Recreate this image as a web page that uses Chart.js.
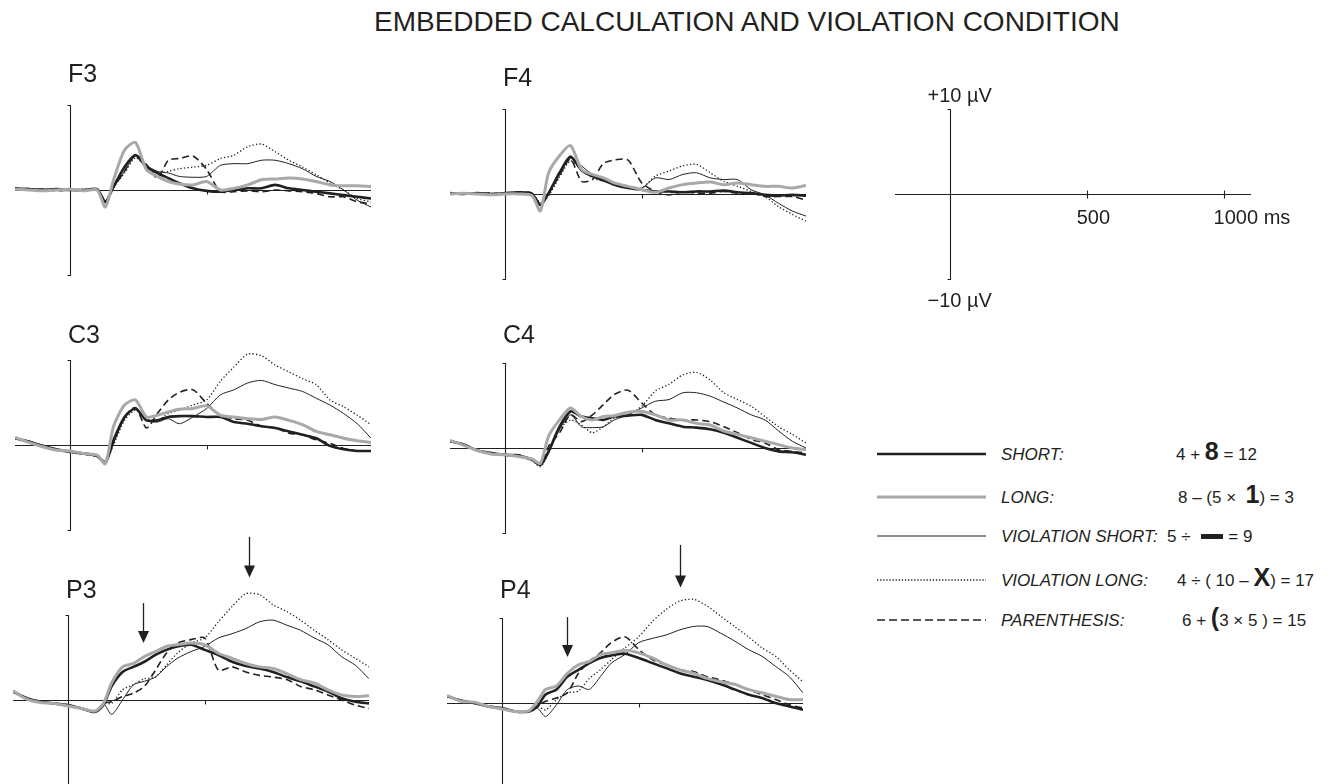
<!DOCTYPE html>
<html>
<head>
<meta charset="utf-8">
<title>Embedded calculation and violation condition</title>
<script src="https://cdn.jsdelivr.net/npm/chart.js@4.4.1/dist/chart.umd.min.js"></script>
<style>
  html, body { margin: 0; padding: 0; background: #fff; }
  body { position: relative; width: 1336px; height: 784px; overflow: hidden;
         font-family: "Liberation Sans", Arial, Helvetica, sans-serif; color: #231f20; }
  canvas { position: absolute; }
  .txt { position: absolute; white-space: nowrap; line-height: 1; }
  .lg { font-style: italic; }
  .eq b { font-size: 25px; line-height: 0; }
  .bar { display: inline-block; width: 22px; height: 5px; background: #231f20; vertical-align: 3px; margin: 0 1px 0 10px; }
  #swatches { position: absolute; left: 0; top: 0; }
</style>
</head>
<body>
<svg id="swatches" width="1336" height="784"></svg>
<script>
// Time points (ms) shared by every trace
const times = [-200, -150, -100, -50, 0, 50, 100, 130, 160, 200, 240, 280, 320, 360, 400, 450, 500, 550, 600, 650, 700, 750, 800, 850, 900, 950, 1000, 1050, 1100]

// F3 (µV)
const f3Short     = [0.2, 0.1, 0.0, 0.1, 0.0, 0.0, 0.1, -1.4, 0.4, 2.7, 4.1, 2.7, 2.0, 1.4, 0.8, 0.2, -0.1, -0.2, 0.0, 0.2, 0.2, 0.6, 0.2, 0.0, -0.2, -0.4, -0.6, -0.8, -1.0]
const f3Long      = [0.1, 0.0, -0.1, 0.0, 0.1, -0.1, 0.0, -2.0, 1.2, 4.7, 5.6, 2.4, 1.6, 1.0, 0.7, 0.6, 1.0, 0.0, 0.2, 0.6, 1.2, 1.3, 1.4, 1.3, 1.0, 0.6, 0.5, 0.5, 0.4]
const f3ViolShort = [0.1, 0.2, 0.0, 0.0, 0.1, 0.0, 0.1, -1.5, 0.3, 2.2, 4.0, 2.9, 2.2, 2.0, 1.6, 1.5, 1.6, 2.9, 3.1, 3.1, 3.5, 3.5, 3.1, 2.5, 1.6, 1.0, 0.0, -1.2, -2.0]
const f3ViolLong  = [0.0, 0.1, 0.1, 0.0, 0.0, 0.1, 0.0, -1.5, 0.3, 2.0, 3.8, 2.7, 2.0, 2.2, 2.5, 2.7, 2.9, 3.7, 4.1, 5.1, 5.4, 4.5, 3.5, 2.7, 1.8, 0.8, 0.0, -1.0, -1.4]
const f3Paren     = [0.1, 0.0, 0.1, -0.1, 0.0, 0.0, 0.1, -1.3, 0.3, 2.2, 4.1, 3.0, 1.4, 3.5, 3.7, 4.0, 2.4, -0.2, -0.2, -0.1, -0.2, 0.0, -0.1, -0.2, -0.4, -0.8, -0.8, -1.4, -1.6]

// F4
const f4Short     = [0.1, 0.0, 0.1, 0.0, 0.1, 0.2, 0.0, -1.3, 0.1, 2.5, 4.4, 2.8, 2.1, 1.6, 1.1, 0.7, 0.5, 0.3, 0.3, 0.2, 0.3, 0.3, 0.4, 0.2, 0.1, -0.1, -0.2, -0.1, -0.2]
const f4Long      = [0.0, 0.1, 0.0, -0.1, 0.0, 0.0, -0.2, -2.0, 2.5, 4.5, 5.7, 2.9, 2.3, 1.9, 1.3, 0.9, 0.5, 0.2, 0.7, 1.1, 1.3, 1.4, 1.1, 1.3, 1.1, 0.9, 0.9, 0.7, 1.0]
const f4ViolShort = [0.1, 0.0, 0.1, 0.0, 0.1, 0.2, 0.1, -1.3, 0.0, 2.3, 4.2, 3.3, 2.3, 1.7, 1.1, 0.7, 0.7, 1.9, 1.7, 2.3, 2.5, 1.9, 1.7, 1.7, 0.5, -0.1, -1.1, -2.0, -2.6]
const f4ViolLong  = [0.0, 0.1, 0.0, 0.1, 0.0, 0.1, 0.0, -1.0, -0.2, 2.0, 3.9, 2.9, 1.9, 1.5, 1.1, 0.7, 0.7, 2.1, 2.7, 3.3, 3.5, 2.5, 1.5, 0.9, 0.3, -0.3, -1.5, -2.4, -3.2]
const f4Paren     = [0.1, 0.0, 0.0, 0.1, 0.0, 0.2, 0.1, -1.2, 0.0, 2.2, 4.1, 1.5, 1.7, 3.6, 4.0, 4.0, 1.3, 0.3, -0.1, 0.3, 0.1, 0.1, 0.3, 0.1, 0.1, -0.3, -0.3, -0.3, -0.7]

// C3
const c3Short     = [0.8, 0.4, -0.1, -0.5, -0.8, -1.0, -1.3, -2.1, 0.6, 3.3, 4.3, 2.9, 2.9, 3.3, 3.4, 3.4, 3.3, 3.3, 2.7, 2.5, 2.2, 2.0, 1.6, 1.2, 0.8, -0.1, -0.5, -0.7, -0.7]
const c3Long      = [0.9, 0.3, -0.2, -0.6, -0.7, -1.0, -1.2, -2.2, 2.2, 4.7, 5.3, 3.3, 3.5, 3.9, 4.2, 4.3, 4.6, 3.5, 3.3, 3.1, 3.0, 3.3, 2.9, 2.4, 1.6, 1.2, 0.8, 0.5, 0.3]
const c3ViolShort = [0.7, 0.4, 0.0, -0.5, -0.8, -1.1, -1.3, -2.1, 0.2, 3.1, 4.4, 2.9, 2.7, 3.1, 2.5, 3.3, 4.3, 5.9, 6.5, 7.3, 7.6, 7.1, 6.7, 6.3, 5.5, 4.7, 3.7, 2.5, 0.8]
const c3ViolLong  = [0.8, 0.5, -0.1, -0.6, -0.9, -1.1, -1.4, -2.0, 0.0, 2.9, 4.1, 3.1, 2.9, 3.7, 4.1, 4.7, 5.3, 7.5, 9.2, 10.7, 10.5, 9.4, 8.6, 7.8, 7.1, 5.3, 4.5, 3.5, 2.4]
const c3Paren     = [0.8, 0.4, -0.1, -0.5, -0.8, -1.0, -1.3, -1.9, 0.3, 3.3, 4.4, 2.0, 3.7, 5.3, 6.2, 6.5, 4.9, 3.5, 3.1, 2.9, 2.2, 2.0, 1.4, 1.2, 0.6, 0.2, -0.4, -0.7, -0.7]

// C4
const c4Short     = [0.8, 0.4, -0.3, -0.6, -0.8, -0.9, -1.4, -2.0, -0.4, 2.5, 4.3, 3.7, 3.5, 3.3, 3.7, 3.8, 3.9, 3.3, 2.9, 2.5, 2.4, 2.2, 1.8, 1.2, 0.6, 0.0, -0.4, -0.5, -0.8]
const c4Long      = [0.9, 0.3, -0.3, -0.7, -0.8, -1.0, -1.3, -1.8, 1.4, 3.3, 4.7, 3.7, 3.3, 3.7, 3.8, 4.2, 4.3, 3.9, 3.3, 3.3, 2.9, 2.7, 2.0, 1.6, 1.2, 0.8, 0.4, 0.0, -0.2]
const c4ViolShort = [0.7, 0.4, -0.2, -0.6, -0.8, -1.0, -1.4, -2.0, -0.5, 2.2, 3.9, 2.5, 2.4, 2.5, 3.3, 3.9, 4.7, 5.5, 5.7, 6.5, 6.5, 6.1, 5.4, 4.7, 3.9, 3.3, 2.0, 0.8, 0.0]
const c4ViolLong  = [0.8, 0.4, -0.3, -0.5, -0.9, -1.0, -1.5, -2.2, -0.6, 2.2, 3.3, 2.7, 1.8, 2.5, 3.5, 3.9, 4.9, 6.7, 7.5, 8.6, 8.9, 8.0, 6.5, 5.7, 4.9, 3.7, 2.5, 1.6, 0.6]
const c4Paren     = [0.8, 0.4, -0.3, -0.6, -0.8, -0.8, -1.3, -1.9, 0.2, 1.8, 3.9, 3.1, 3.9, 5.1, 6.3, 6.8, 5.3, 3.9, 3.5, 3.3, 3.3, 3.1, 2.5, 1.8, 1.0, 0.6, -0.2, -0.4, -0.6]

// P3
const p3Short     = [1.0, 0.2, -0.2, -0.4, -0.6, -1.0, -1.4, -0.6, 1.6, 3.3, 3.9, 4.5, 5.3, 5.9, 6.3, 6.5, 5.9, 5.3, 4.5, 4.0, 3.7, 3.3, 2.7, 2.2, 1.6, 1.0, 0.2, -0.2, -0.4]
const p3Long      = [1.1, 0.1, -0.3, -0.4, -0.7, -1.0, -1.3, -0.4, 2.0, 3.9, 4.3, 5.1, 5.7, 6.3, 6.5, 6.7, 6.5, 5.5, 4.9, 4.3, 3.9, 3.7, 3.1, 2.4, 2.0, 1.2, 0.6, 0.4, 0.5]
const p3ViolShort = [0.9, 0.2, -0.2, -0.5, -0.6, -1.0, -1.4, -0.4, -1.7, 0.0, 1.8, 2.2, 2.7, 3.9, 4.9, 5.7, 6.3, 7.3, 7.8, 8.4, 9.2, 9.4, 8.8, 8.2, 7.3, 6.5, 5.1, 4.1, 2.5]
const p3ViolLong  = [1.0, 0.3, -0.2, -0.4, -0.6, -1.1, -1.3, -0.4, -0.4, 1.2, 1.8, 2.5, 2.7, 4.1, 5.5, 6.7, 7.3, 9.2, 11.0, 12.5, 12.4, 11.2, 10.4, 9.4, 8.2, 7.1, 5.9, 4.9, 3.9]
const p3Paren     = [1.0, 0.2, -0.2, -0.4, -0.6, -1.0, -1.4, -0.4, -0.2, 0.4, 0.8, 1.6, 3.5, 5.5, 6.7, 7.1, 7.3, 3.5, 3.9, 3.3, 2.9, 2.7, 2.4, 1.6, 1.2, 0.6, 0.0, -0.6, -1.0]

// P4
const p4Short     = [0.8, 0.3, 0.0, -0.4, -0.6, -1.0, -1.0, -0.4, 1.0, 1.6, 3.1, 3.9, 4.7, 5.3, 5.6, 5.8, 5.3, 4.7, 4.1, 3.5, 3.1, 2.7, 2.2, 1.6, 1.0, 0.6, 0.0, -0.4, -0.8]
const p4Long      = [0.9, 0.2, 0.1, -0.4, -0.7, -1.0, -0.9, 0.2, 1.6, 2.0, 3.5, 4.5, 4.9, 5.7, 5.9, 6.2, 5.9, 5.3, 4.5, 3.9, 3.5, 2.9, 2.5, 2.2, 1.6, 1.2, 0.8, 0.4, 0.4]
const p4ViolShort = [0.8, 0.3, 0.0, -0.4, -0.6, -1.0, -1.0, -0.6, -1.6, -0.2, 1.6, 2.0, 1.6, 3.1, 4.7, 5.7, 7.1, 7.6, 8.0, 8.6, 9.0, 9.0, 8.2, 7.3, 6.3, 5.5, 4.3, 3.1, 1.2]
const p4ViolLong  = [0.8, 0.3, -0.1, -0.4, -0.6, -1.1, -1.0, -0.4, -0.8, 0.4, 1.2, 1.4, 2.9, 3.9, 5.1, 6.5, 7.8, 9.6, 11.0, 12.0, 12.2, 11.4, 10.2, 9.0, 7.8, 6.5, 5.5, 3.9, 2.5]
const p4Paren     = [0.8, 0.3, 0.0, -0.4, -0.6, -1.0, -1.0, -0.4, 0.2, 0.6, 1.2, 3.5, 4.9, 5.9, 7.1, 7.8, 6.3, 5.1, 4.5, 3.9, 3.7, 3.1, 2.7, 2.2, 1.6, 1.0, 0.4, -0.2, -0.6]

// Arrows over P3/P4: [time ms, top µV, tip µV]
const p3Arrows = [[274, 11.4, 6.7], [661, 19.2, 14.4]]
const p4Arrows = [[237, 10.1, 5.4], [650, 18.6, 13.6]]

// Calibration axes
const scaleTicks = [500, 1000]
const scaleTickLabels = ['500', '1000 ms']
const scaleRange = [10, -10]
const scaleRangeLabels = ['+10 \u00b5V', '\u221210 \u00b5V']

// Legend
const conditionNames = ['SHORT:', 'LONG:', 'VIOLATION SHORT:', 'VIOLATION LONG:', 'PARENTHESIS:']
const conditionExamples = [
    '4 + <b>8</b> = 12',
    '8 \u2013 (5 \u00d7 &nbsp;<b>1</b>) = 3',
    '5 \u00f7<span class="bar"></span> = 9',
    '4 \u00f7 ( 10 \u2013 <b>X</b>) = 17',
    '6 + <b>(</b>3 \u00d7 5 ) = 15'
]

// Geometry (pixels)
const PX_MS = 0.274
const PX_UV = 8.5
const T_MIN = -200, T_MAX = 1100
const UV_MIN = -12, UV_MAX = 20
const INK = '#231f20'
const GRAY = '#a7a9ac'

const traceStyles = [
    { borderColor: GRAY, borderWidth: 3 },                               // long
    { borderColor: INK, borderWidth: 2.6 },                              // short
    { borderColor: INK, borderWidth: 1 },                                // violation short
    { borderColor: INK, borderWidth: 1.3, borderDash: [1.3, 2.2] },      // violation long
    { borderColor: INK, borderWidth: 1.6, borderDash: [7, 4] }           // parenthesis
]

const panels = [
    { name: 'F3', x0: 70, y0: 190, labelY: 82, traces: [f3Long, f3Short, f3ViolShort, f3ViolLong, f3Paren] },
    { name: 'F4', x0: 505, y0: 194, labelY: 86, traces: [f4Long, f4Short, f4ViolShort, f4ViolLong, f4Paren] },
    { name: 'C3', x0: 70, y0: 445, labelY: 343, traces: [c3Long, c3Short, c3ViolShort, c3ViolLong, c3Paren] },
    { name: 'C4', x0: 505, y0: 448, labelY: 343, traces: [c4Long, c4Short, c4ViolShort, c4ViolLong, c4Paren] },
    { name: 'P3', x0: 68, y0: 700, labelY: 598, traces: [p3Long, p3Short, p3ViolShort, p3ViolLong, p3Paren], arrows: p3Arrows },
    { name: 'P4', x0: 502, y0: 703, labelY: 598, traces: [p4Long, p4Short, p4ViolShort, p4ViolLong, p4Paren], arrows: p4Arrows }
]

// draws the ERP axes (baseline, bracketed voltage axis, 500 ms tick) and arrows
const erpAxes = {
    id: 'erpAxes',
    beforeDatasetsDraw(chart, args, opts) {
        const { ctx, scales: { x, y } } = chart
        const zx = Math.round(x.getPixelForValue(0)) + 0.5
        const zy = Math.round(y.getPixelForValue(0)) + 0.5
        const top = Math.round(y.getPixelForValue(10)) + 0.5
        const bot = Math.round(y.getPixelForValue(-10)) + 0.5
        ctx.save()
        ctx.strokeStyle = INK
        ctx.lineWidth = 1.1
        ctx.beginPath()
        ctx.moveTo(x.getPixelForValue(T_MIN), zy)
        ctx.lineTo(x.getPixelForValue(T_MAX), zy)
        ctx.moveTo(zx - 3, top)
        ctx.lineTo(zx, top)
        ctx.lineTo(zx, bot)
        ctx.lineTo(zx - 3, bot)
        opts.ticks.forEach(t => {
            const tx = Math.round(x.getPixelForValue(t)) + 0.5
            ctx.moveTo(tx, zy - opts.tickUp)
            ctx.lineTo(tx, zy + 4)
        })
        ctx.stroke()

        if (opts.tickLabels) {
            ctx.fillStyle = INK
            ctx.font = '20px "Liberation Sans", Arial, sans-serif'
            ctx.textBaseline = 'alphabetic'
            opts.ticks.forEach((t, i) => {
                ctx.fillText(opts.tickLabels[i], x.getPixelForValue(t) - 10, zy + 29)
            })
            ctx.fillText(opts.rangeLabels[0], zx - 23, y.getPixelForValue(opts.range[0]) - 7)
            ctx.fillText(opts.rangeLabels[1], zx - 23, y.getPixelForValue(opts.range[1]) + 28)
        }
        ctx.restore()
    },
    afterDatasetsDraw(chart, args, opts) {
        if (!opts.arrows) return
        const { ctx, scales: { x, y } } = chart
        ctx.save()
        ctx.strokeStyle = INK
        ctx.fillStyle = INK
        ctx.lineWidth = 1.3
        opts.arrows.forEach(([t, from, to]) => {
            const ax = Math.round(x.getPixelForValue(t)) + 0.5
            const y1 = y.getPixelForValue(from)
            const y2 = y.getPixelForValue(to)
            ctx.beginPath()
            ctx.moveTo(ax, y1)
            ctx.lineTo(ax, y2 - 10)
            ctx.stroke()
            ctx.beginPath()
            ctx.moveTo(ax - 5.5, y2 - 12)
            ctx.lineTo(ax + 5.5, y2 - 12)
            ctx.lineTo(ax, y2)
            ctx.closePath()
            ctx.fill()
        })
        ctx.restore()
    }
}

function makeChart(x0, y0, pad, datasets, axesOpts) {
    const w = (T_MAX - T_MIN) * PX_MS
    const h = (UV_MAX - UV_MIN) * PX_UV
    const cv = document.createElement('canvas')
    cv.width = Math.round(w + pad.left + pad.right)
    cv.height = Math.round(h + pad.top + pad.bottom)
    cv.style.width = cv.width + 'px'
    cv.style.height = cv.height + 'px'
    cv.style.left = (x0 + T_MIN * PX_MS - pad.left) + 'px'
    cv.style.top = (y0 - UV_MAX * PX_UV - pad.top) + 'px'
    document.body.appendChild(cv)
    return new Chart(cv, {
        type: 'line',
        data: { datasets: datasets },
        options: {
            responsive: false,
            animation: false,
            events: [],
            devicePixelRatio: 1,
            layout: { padding: pad },
            elements: { point: { radius: 0 }, line: { tension: 0.25 } },
            scales: {
                x: { type: 'linear', min: T_MIN, max: T_MAX, display: false },
                y: { type: 'linear', min: UV_MIN, max: UV_MAX, display: false }
            },
            plugins: { legend: { display: false }, tooltip: { enabled: false }, erpAxes: axesOpts }
        },
        plugins: [erpAxes]
    })
}

function addText(html, x, baseline, size, cls) {
    const d = document.createElement('div')
    d.className = 'txt ' + (cls || '')
    d.style.fontSize = size + 'px'
    d.style.left = x + 'px'
    d.style.top = (baseline - 0.8465 * size) + 'px'
    d.innerHTML = html
    document.body.appendChild(d)
    return d
}

// title
addText('EMBEDDED CALCULATION AND VIOLATION CONDITION', 374, 32, 28)

// electrode panels
panels.forEach(p => {
    const datasets = p.traces.map((vals, i) => Object.assign({
        data: times.map((t, j) => ({ x: t, y: vals[j] })),
        fill: false
    }, traceStyles[i]))
    makeChart(p.x0, p.y0, { left: 6, right: 6, top: 0, bottom: 0 }, datasets,
        { ticks: [500], tickUp: 0, arrows: p.arrows })
    addText(p.name, p.x0 - 2, p.labelY, 25)
})

// calibration panel
makeChart(950, 194, { left: 40, right: 70, top: 0, bottom: 30 }, [],
    { ticks: scaleTicks, tickUp: 4, tickLabels: scaleTickLabels, range: scaleRange, rangeLabels: scaleRangeLabels })

// legend
const legendRows = [454, 497, 536, 580, 620]
const eqX = [1176, 1178, 1167, 1177, 1182]
const svg = document.getElementById('swatches')
legendRows.forEach((ly, i) => {
    const st = traceStyles[[1, 0, 2, 3, 4][i]]
    const ln = document.createElementNS('http://www.w3.org/2000/svg', 'line')
    ln.setAttribute('x1', 877)
    ln.setAttribute('x2', 986)
    ln.setAttribute('y1', ly)
    ln.setAttribute('y2', ly)
    ln.setAttribute('stroke', st.borderColor)
    ln.setAttribute('stroke-width', st.borderWidth)
    if (st.borderDash) ln.setAttribute('stroke-dasharray', i === 4 ? '8 4' : '1.3 1.8')
    svg.appendChild(ln)
    addText(conditionNames[i], 1001, ly + 6, 17, 'lg')
    addText(conditionExamples[i], eqX[i], ly + 6, 17, 'eq')
})
</script>
</body>
</html>
